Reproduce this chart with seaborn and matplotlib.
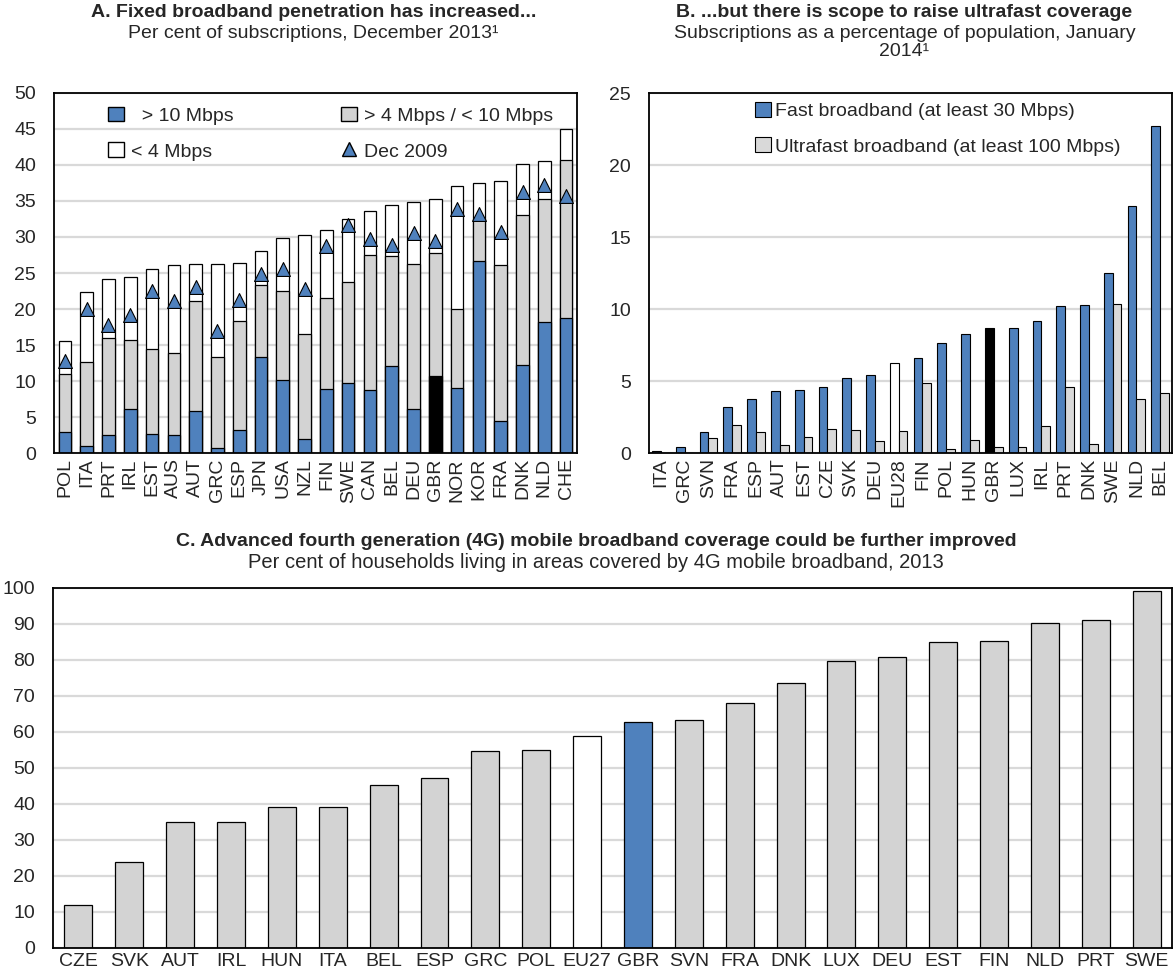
import numpy as np
import pandas as pd
import seaborn as sns
import matplotlib.pyplot as plt
from matplotlib.patches import Patch
from matplotlib.lines import Line2D

# Panel A data
countries_a = ['POL', 'ITA', 'PRT', 'IRL', 'EST', 'AUS', 'AUT', 'GRC', 'ESP', 'JPN', 'USA', 'NZL',
               'FIN', 'SWE', 'CAN', 'BEL', 'DEU', 'GBR', 'NOR', 'KOR', 'FRA', 'DNK', 'NLD', 'CHE']
over_10 = [2.9, 1.0, 2.5, 6.2, 2.7, 2.5, 5.9, 0.8, 3.2, 13.3, 10.2, 2.0,
           8.9, 9.8, 8.8, 12.1, 6.2, 10.7, 9.0, 26.6, 4.5, 12.2, 18.2, 18.8]
from_4_to_10 = [8.1, 11.6, 13.5, 9.5, 11.7, 11.4, 15.2, 12.6, 15.2, 10.1, 12.3, 14.5,
                12.6, 13.9, 18.7, 15.2, 20.1, 17.1, 11.0, 5.9, 21.6, 20.8, 17.1, 21.9]
under_4 = [4.6, 9.7, 8.2, 8.8, 11.2, 12.2, 5.2, 12.9, 8.0, 4.7, 7.4, 13.8,
           9.4, 8.8, 6.1, 7.2, 8.6, 7.5, 17.1, 5.0, 11.6, 7.1, 5.2, 4.3]
dec_2009 = [12.8, 20.0, 17.8, 19.2, 22.5, 21.1, 23.1, 17.0, 21.3, 24.8, 25.6, 22.8,
            28.8, 31.7, 29.7, 28.9, 30.5, 29.5, 33.9, 33.2, 30.7, 36.2, 37.2, 35.7]

# Panel B data
countries_b = ['ITA', 'GRC', 'SVN', 'FRA', 'ESP', 'AUT', 'EST', 'CZE', 'SVK', 'DEU', 'EU28',
               'FIN', 'POL', 'HUN', 'GBR', 'LUX', 'IRL', 'PRT', 'DNK', 'SWE', 'NLD', 'BEL']
fast = [0.14, 0.42, 1.5, 3.2, 3.8, 4.3, 4.4, 4.6, 5.25, 5.45, 6.3,
        6.65, 7.65, 8.3, 8.7, 8.7, 9.2, 10.2, 10.3, 12.5, 17.15, 22.7]
ultrafast = [0.0, 0.0, 1.05, 2.0, 1.5, 0.55, 1.1, 1.7, 1.65, 0.85, 1.55,
             4.9, 0.3, 0.95, 0.45, 0.45, 1.9, 4.6, 0.65, 10.35, 3.8, 4.2]

# Panel C data
countries_c = ['CZE', 'SVK', 'AUT', 'IRL', 'HUN', 'ITA', 'BEL', 'ESP', 'GRC', 'POL', 'EU27',
               'GBR', 'SVN', 'FRA', 'DNK', 'LUX', 'DEU', 'EST', 'FIN', 'NLD', 'PRT', 'SWE']
coverage_4g = [12.0, 24.0, 34.9, 35.1, 39.1, 39.2, 45.4, 47.1, 54.8, 54.9, 59.0,
               62.9, 63.3, 68.0, 73.7, 79.8, 80.9, 84.9, 85.4, 90.3, 91.2, 99.1]

BLUE = '#4f81bd'
GREY = '#d3d3d3'
GRID = '#d9d9d9'

sns.set_theme(style='white')
plt.rcParams['font.family'] = ['Liberation Sans Narrow', 'Liberation Sans', 'DejaVu Sans']
plt.rcParams['font.size'] = 13


def style_axes(ax, ymax, step):
    ax.set_ylim(0, ymax)
    ax.set_yticks(np.arange(0, ymax + 0.1, step))
    ax.yaxis.grid(True, color=GRID, linewidth=1.6)
    ax.set_axisbelow(True)
    for s in ax.spines.values():
        s.set_visible(True)
        s.set_color('black')
        s.set_linewidth(1.3)
    ax.tick_params(axis='y', length=5, color=GRID, width=1.5, labelsize=14, pad=8)
    ax.tick_params(axis='x', length=0, labelsize=14)
    ax.set_xlabel('')
    ax.set_ylabel('')


fig = plt.figure(figsize=(11.73, 9.77), dpi=100)

# Panel A - stacked bars drawn as layered cumulative bars
ax_a = fig.add_axes([0.046, 0.536, 0.4459, 0.3691])
totals = np.array(over_10) + np.array(from_4_to_10) + np.array(under_4)
mid_top = np.array(over_10) + np.array(from_4_to_10)
sns.barplot(x=countries_a, y=totals, order=countries_a, color='white', saturation=1,
            edgecolor='black', linewidth=0.9, width=0.58, ax=ax_a)
sns.barplot(x=countries_a, y=mid_top, order=countries_a, color=GREY, saturation=1,
            edgecolor='black', linewidth=0.9, width=0.58, ax=ax_a)
sns.barplot(x=countries_a, y=over_10, order=countries_a, color=BLUE, saturation=1,
            edgecolor='black', linewidth=0.9, width=0.58, ax=ax_a)
ax_a.containers[-1][countries_a.index('GBR')].set_facecolor('black')
sns.stripplot(x=countries_a, y=dec_2009, order=countries_a, marker='^', jitter=False,
              size=10, color=BLUE, edgecolor='black', linewidth=0.8, ax=ax_a, zorder=5)
style_axes(ax_a, 50, 5)
ax_a.set_xlim(-0.5, len(countries_a) - 0.5)
ax_a.tick_params(axis='x', labelrotation=90)

handles_a = [Patch(facecolor=BLUE, edgecolor='black'),
             Patch(facecolor='white', edgecolor='black'),
             Patch(facecolor=GREY, edgecolor='black'),
             Line2D([], [], marker='^', linestyle='none', markersize=10,
                    markerfacecolor=BLUE, markeredgecolor='black')]
labels_a = ['  > 10 Mbps', '< 4 Mbps', '> 4 Mbps / < 10 Mbps', 'Dec 2009']
ax_a.legend(handles_a, labels_a, ncol=2, loc='upper left', bbox_to_anchor=(0.07, 1.01),
            frameon=False, fontsize=14, handlelength=0.8, handleheight=0.8,
            handletextpad=0.4, columnspacing=5.5, labelspacing=0.9)

# Panel B - grouped bars
ax_b = fig.add_axes([0.5533, 0.536, 0.4459, 0.3685])
df_b = pd.DataFrame({
    'country': countries_b * 2,
    'value': fast + ultrafast,
    'series': ['Fast broadband (at least 30 Mbps)'] * len(countries_b)
              + ['Ultrafast broadband (at least 100 Mbps)'] * len(countries_b),
})
sns.barplot(data=df_b, x='country', y='value', hue='series', order=countries_b,
            palette=[BLUE, '#d9d9d9'], saturation=1, edgecolor='black', linewidth=0.8,
            width=0.74, ax=ax_b)
ax_b.containers[0][countries_b.index('GBR')].set_facecolor('black')
ax_b.containers[0][countries_b.index('EU28')].set_facecolor('white')
style_axes(ax_b, 25, 5)
ax_b.set_xlim(-0.5, len(countries_b) - 0.5)
ax_b.tick_params(axis='x', labelrotation=90)
ax_b.legend(loc='upper left', bbox_to_anchor=(0.17, 1.025), frameon=False, fontsize=14,
            handlelength=0.8, handleheight=0.8, handletextpad=0.2, labelspacing=0.9)

# Panel C - simple bars
ax_c = fig.add_axes([0.0452, 0.0297, 0.954, 0.3685])
colors_c = {c: GREY for c in countries_c}
colors_c['GBR'] = BLUE
colors_c['EU27'] = 'white'
sns.barplot(x=countries_c, y=coverage_4g, order=countries_c, hue=countries_c,
            palette=colors_c, saturation=1, edgecolor='black', linewidth=0.9,
            width=0.55, legend=False, ax=ax_c)
style_axes(ax_c, 100, 10)
ax_c.set_xlim(-0.5, len(countries_c) - 0.5)

# Titles
fig.text(0.267, 0.987, 'A. Fixed broadband penetration has increased...', ha='center',
         va='center', fontsize=14, fontweight='bold')
fig.text(0.267, 0.966, 'Per cent of subscriptions, December 2013\u00b9', ha='center',
         va='center', fontsize=14)
fig.text(0.771, 0.987, 'B. ...but there is scope to raise ultrafast coverage', ha='center',
         va='center', fontsize=14, fontweight='bold')
fig.text(0.771, 0.966, 'Subscriptions as a percentage of population, January', ha='center',
         va='center', fontsize=14)
fig.text(0.771, 0.947, '2014\u00b9', ha='center', va='center', fontsize=14)
fig.text(0.508, 0.446, 'C. Advanced fourth generation (4G) mobile broadband coverage could be further improved',
         ha='center', va='center', fontsize=14, fontweight='bold')
fig.text(0.508, 0.424, 'Per cent of households living in areas covered by 4G mobile broadband, 2013',
         ha='center', va='center', fontsize=14.5)

fig.savefig('out.png', dpi=100)
